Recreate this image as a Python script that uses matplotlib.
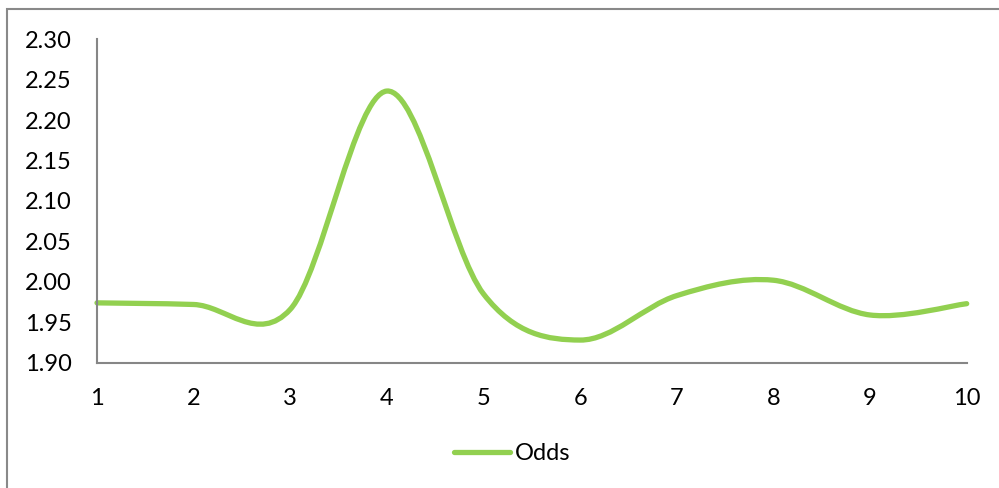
import matplotlib
matplotlib.use("Agg")
import matplotlib.pyplot as plt
from matplotlib.path import Path
from matplotlib.patches import PathPatch, Rectangle
from matplotlib.lines import Line2D
import numpy as np

x_vals = [1, 2, 3, 4, 5, 6, 7, 8, 9, 10]
odds = [1.974, 1.972, 1.966, 2.236, 1.985, 1.928, 1.983, 2.002, 1.959, 1.973]
y_ticks = [1.90, 1.95, 2.00, 2.05, 2.10, 2.15, 2.20, 2.25, 2.30]
series_name = "Odds"

plt.rcParams['font.family'] = ['Lato', 'DejaVu Sans']
GREEN = '#92D050'
GRAY = '#868686'

fig = plt.figure(figsize=(9.99, 4.88), dpi=100)
ax = fig.add_axes([97/999, 1-362.7/488, (966.7-97)/999, (362.7-39.3)/488])

# Excel-style smoothed line (Catmull-Rom as cubic Bezier)
px = np.array(x_vals, dtype=float)
py = np.array(odds, dtype=float)
n = len(px)
verts = [(px[0], py[0])]
codes = [Path.MOVETO]
for i in range(n - 1):
    p0 = np.array([px[max(i-1, 0)], py[max(i-1, 0)]])
    p1 = np.array([px[i], py[i]])
    p2 = np.array([px[i+1], py[i+1]])
    p3 = np.array([px[min(i+2, n-1)], py[min(i+2, n-1)]])
    c1 = p1 + (p2 - p0) / 6.0
    c2 = p2 - (p3 - p1) / 6.0
    verts += [tuple(c1), tuple(c2), tuple(p2)]
    codes += [Path.CURVE4] * 3
patch = PathPatch(Path(verts, codes), facecolor='none', edgecolor=GREEN,
                  lw=3.8, capstyle='round', joinstyle='round', clip_on=False)
ax.add_patch(patch)

ax.set_xlim(1, 10)
ax.set_ylim(1.90, 2.30)
ax.set_xticks(x_vals)
ax.set_xticklabels([str(v) for v in x_vals])
ax.set_yticks(y_ticks)
ax.set_yticklabels([f"{v:.2f}" for v in y_ticks])
ax.tick_params(axis='both', length=0, labelsize=17, colors='black')
ax.tick_params(axis='x', pad=18)
ax.tick_params(axis='y', pad=18)
for s in ['top', 'right']:
    ax.spines[s].set_visible(False)
for s in ['left', 'bottom']:
    ax.spines[s].set_color(GRAY)
    ax.spines[s].set_linewidth(1.5)

handle = Line2D([], [], color=GREEN, lw=3.8, solid_capstyle='round')
fig.legend([handle], [series_name], loc='center', bbox_to_anchor=(512/999, 1-454/488),
           frameon=False, fontsize=17, handlelength=2.4, handletextpad=0.2)

# outer chart border
fig.patches.append(Rectangle((7/999, -0.1), 1.2, 1 - 9.3/488 + 0.1, transform=fig.transFigure,
                             fill=False, edgecolor='#898989', lw=1.5))

fig.savefig("out.png", dpi=100, facecolor='white')
